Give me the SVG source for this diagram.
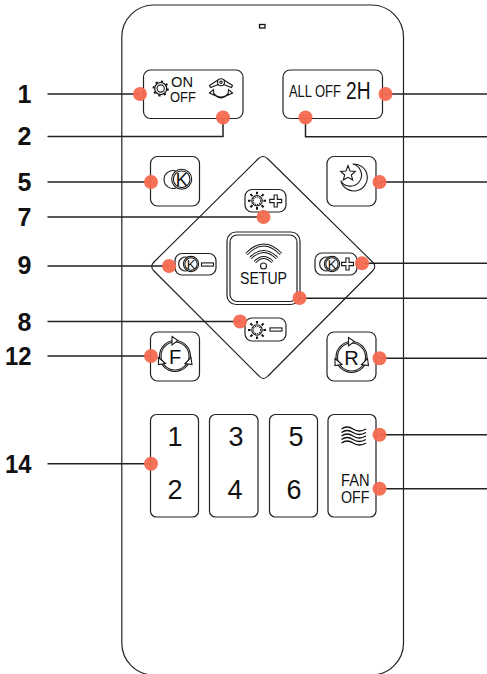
<svg xmlns="http://www.w3.org/2000/svg" width="487" height="674" viewBox="0 0 487 674">
<style>
.o{fill:none;stroke:#222;stroke-width:1.2}
.t{fill:none;stroke:#1a1a1a;stroke-width:1.1}
.w{fill:#fff;stroke:#1a1a1a;stroke-width:1.1}
.l{fill:none;stroke:#222;stroke-width:1.5}
.d{fill:#f4694f;fill-opacity:.95}
.s{font-family:"Liberation Sans",Arial,sans-serif;fill:#111}
.n{font-size:27px;text-anchor:middle}
.b{font-size:25px;font-weight:bold;text-anchor:end}
</style>
<defs>
<g id="sun">
<circle class="t" r="5.200"/><circle class="t" r="3.800" stroke-dasharray="1.400 .8"/>
<path fill="none" stroke="#111" stroke-width="2" d="M0-6.400V-9M0 6.400V9M-6.400 0H-9M6.400 0H9M-4.600-4.600L-6.600-6.600M4.600-4.600L6.600-6.600M-4.600 4.600L-6.600 6.600M4.600 4.600L6.600 6.600"/>
</g>
<g id="plus"><path class="t" d="M-1.600-6H1.600V-1.600H6V1.600H1.600V6H-1.600V1.600H-6V-1.600H-1.600Z"/></g>
<g id="minus"><rect class="t" x="-6" y="-1.600" width="12" height="3.200"/></g>
<g id="ksmall">
<path class="t" d="M-3-6.600A7 7 0 1 0-3 6.600"/>
<circle class="w" r="7.600"/><circle class="t" r="6.200"/>
<text class="s" x="0" y="4.600" font-size="13" text-anchor="middle">K</text>
</g>
<g id="cycle">
<circle class="t" r="15.500"/><circle class="t" r="14"/>
<path class="w" d="M-3-19.500L3-15.500-3-11ZM-16.500 1.500L-16.500 8.500-9.500 7.500ZM16 1.500L17 8.500 10 7.500Z"/>
</g>
</defs>
<g id="body"><rect class="o" x="121.800" y="5" width="281.700" height="670" rx="32" ry="32"/><rect x="259.500" y="24.500" width="5.500" height="3.500" fill="none" stroke="#111" stroke-width="1.300"/></g>
<g id="connectors">
<path class="l" d="M47.500 94H140M47.500 136.600H223V118M47.500 182H151M47.500 217H263.500M47.500 266H169M47.500 321.500H240M47.500 356H151M47.500 463.700H151"/>
<path class="l" d="M385 94H487M305.500 118V136.700H487M379 182H487M362 263.300H487M299.500 298.300H487M379 358.300H487M379 434.700H487M379 488.700H487"/>
</g>
<g id="labels">
<text class="s b" x="31.500" y="103">1</text>
<text class="s b" x="31.500" y="145">2</text>
<text class="s b" x="31.500" y="190.700">5</text>
<text class="s b" x="31.500" y="226">7</text>
<text class="s b" x="31.500" y="274">9</text>
<text class="s b" x="31.500" y="330.700">8</text>
<text class="s b" x="31.500" y="364.500" textLength="26.500" lengthAdjust="spacingAndGlyphs">12</text>
<text class="s b" x="31.500" y="472.500" textLength="26.500" lengthAdjust="spacingAndGlyphs">14</text>
</g>
<g id="diamond"><path class="t" d="M258 159Q263 154 268 159L372.500 262Q377 266.500 372.500 271L268 376Q263.500 381 259 376L154 271Q149.500 266.500 154 262Z"/></g>
<g id="btn-on-off">
<rect class="o" x="143.500" y="70" width="99.500" height="48.500" rx="7"/>
<circle class="t" cx="160.700" cy="88.500" r="3.600"/>
<circle cx="160.700" cy="88.500" r="6" fill="none" stroke="#111" stroke-width="1.200"/>
<circle cx="160.700" cy="88.500" r="7.200" fill="none" stroke="#111" stroke-width="1.800" stroke-dasharray="2.200 3.450"/>
<text class="s" x="171" y="86.800" font-size="15.500" textLength="22" lengthAdjust="spacingAndGlyphs">ON</text>
<text class="s" x="170" y="102.200" font-size="15.500" textLength="26" lengthAdjust="spacingAndGlyphs">OFF</text>
<circle class="t" cx="221" cy="82.300" r="3.500"/><circle class="t" cx="221" cy="82.300" r="1.200"/>
<path class="t" d="M218 80L209.500 85.500 210.500 87.500 218.500 84.500M224 80L232.500 85.500 231.500 87.500 223.500 84.500"/>
<path d="M212 92Q221 103 230 92" fill="none" stroke="#111" stroke-width="1.800"/>
<path class="w" d="M209.500 93L213.500 89.500 214 95ZM232.500 93L228.500 89.500 228 95Z"/>
</g>
<g id="btn-all-off">
<rect class="o" x="283" y="70" width="99.500" height="48.500" rx="7"/>
<text class="s" x="289" y="97.300" font-size="16" textLength="23" lengthAdjust="spacingAndGlyphs">ALL</text>
<text class="s" x="315" y="97.300" font-size="16" textLength="26" lengthAdjust="spacingAndGlyphs">OFF</text>
<text class="s" x="346" y="99" font-size="23" textLength="24.500" lengthAdjust="spacingAndGlyphs">2H</text>
</g>
<g id="btn-k">
<rect class="o" x="150.500" y="156.500" width="49" height="49.500" rx="7"/>
<path class="t" d="M176 171A9 9 0 1 0 176 188"/>
<circle class="w" cx="181.700" cy="179.300" r="10"/><circle class="t" cx="181.700" cy="179.300" r="8.300"/>
<text class="s" x="181.700" y="186" font-size="18" text-anchor="middle">K</text>
</g>
<g id="btn-moon">
<rect class="o" x="327" y="156.500" width="49" height="49.500" rx="7"/>
<path class="t" d="M352.700 164A13.500 13.500 0 1 1 340.700 180.700A11.200 11.200 0 1 0 352.700 164Z"/>
<path class="t" d="M348 165.500L350 171 355.300 171.500 351.300 175 352.700 180 348 177.300 343.300 180 344.700 175 340.700 171.500 346 171Z"/>
</g>
<g id="btn-bright-plus">
<rect class="o" x="245" y="189.500" width="41" height="22.500" rx="7"/>
<use href="#sun" x="257" y="200.700"/>
<use href="#plus" x="275.700" y="201"/>
</g>
<g id="btn-k-minus">
<rect class="o" x="175" y="253.500" width="41" height="21.500" rx="7"/>
<use href="#ksmall" x="191" y="264"/>
<use href="#minus" x="207.500" y="264.500"/>
</g>
<g id="btn-k-plus">
<rect class="o" x="315" y="253" width="42" height="22" rx="7"/>
<use href="#ksmall" x="332" y="264"/>
<use href="#plus" x="347.500" y="264"/>
</g>
<g id="btn-setup">
<rect class="o" x="227" y="232" width="73" height="72.500" rx="9"/>
<rect class="o" x="230" y="235" width="67" height="66.500" rx="7"/>
<path d="M246.500 254Q263.500 236 281 254M250.500 258Q263.500 245 277 258M255 262Q263.500 253 272.500 262" fill="none" stroke="#111" stroke-width="3"/>
<path d="M246.500 254Q263.500 236 281 254M250.500 258Q263.500 245 277 258M255 262Q263.500 253 272.500 262" fill="none" stroke="#fff" stroke-width="1.100"/>
<circle class="t" cx="263.500" cy="266" r="3"/>
<text class="s" x="240" y="284" font-size="16.500" textLength="47" lengthAdjust="spacingAndGlyphs">SETUP</text>
</g>
<g id="btn-bright-minus">
<rect class="o" x="245" y="318" width="41" height="23" rx="7"/>
<use href="#sun" x="257" y="330"/>
<use href="#minus" x="276" y="329.500"/>
</g>
<g id="btn-f">
<rect class="o" x="150.500" y="332" width="49" height="49" rx="7"/>
<use href="#cycle" x="175" y="356"/>
<text class="s" x="175" y="363.500" font-size="20" text-anchor="middle">F</text>
</g>
<g id="btn-r">
<rect class="o" x="327" y="332" width="49" height="49" rx="7"/>
<use href="#cycle" x="351.500" y="357"/>
<text class="s" x="351.500" y="364.500" font-size="20" text-anchor="middle">R</text>
</g>
<g id="btn-12">
<rect class="o" x="150.500" y="414.500" width="48" height="102.500" rx="6"/>
<text class="s n" x="175" y="446">1</text><text class="s n" x="175" y="499.300">2</text>
</g>
<g id="btn-34">
<rect class="o" x="209.500" y="414.500" width="48.500" height="102.500" rx="6"/>
<text class="s n" x="236" y="446">3</text><text class="s n" x="235" y="499.300">4</text>
</g>
<g id="btn-56">
<rect class="o" x="269.500" y="414.500" width="48" height="102.500" rx="6"/>
<text class="s n" x="296" y="446">5</text><text class="s n" x="294" y="499.300">6</text>
</g>
<g id="btn-fan">
<rect class="o" x="328" y="414.500" width="48" height="102.500" rx="6"/>
<path d="M341.500 429Q347 425 353 429T366 429M341.500 432.500Q347 428.500 353 432.500T366 432.500M341.500 436Q347 432 353 436T366 436M341.500 439.500Q347 435.500 353 439.500T366 439.500M341.500 443Q347 439 353 443T366 443" fill="none" stroke="#111" stroke-width="1.300"/>
<text class="s" x="341" y="486" font-size="16.500" textLength="28.500" lengthAdjust="spacingAndGlyphs">FAN</text>
<text class="s" x="341" y="502.700" font-size="16.500" textLength="28.500" lengthAdjust="spacingAndGlyphs">OFF</text>
</g>
<g id="dots">
<circle class="d" cx="140" cy="94" r="7"/><circle class="d" cx="223" cy="117.500" r="7"/>
<circle class="d" cx="305.500" cy="117.500" r="7"/><circle class="d" cx="385.500" cy="94" r="7"/>
<circle class="d" cx="151" cy="182" r="7"/><circle class="d" cx="379.500" cy="182" r="7"/>
<circle class="d" cx="263.500" cy="217" r="7"/><circle class="d" cx="169" cy="266" r="7"/>
<circle class="d" cx="362" cy="263.300" r="7"/><circle class="d" cx="299.500" cy="298" r="7"/>
<circle class="d" cx="240" cy="321.500" r="7"/><circle class="d" cx="151" cy="356" r="7"/>
<circle class="d" cx="379.500" cy="358.300" r="7"/><circle class="d" cx="151" cy="463.700" r="7"/>
<circle class="d" cx="379.500" cy="434.700" r="7"/><circle class="d" cx="379.500" cy="488.700" r="7"/>
</g>
</svg>
